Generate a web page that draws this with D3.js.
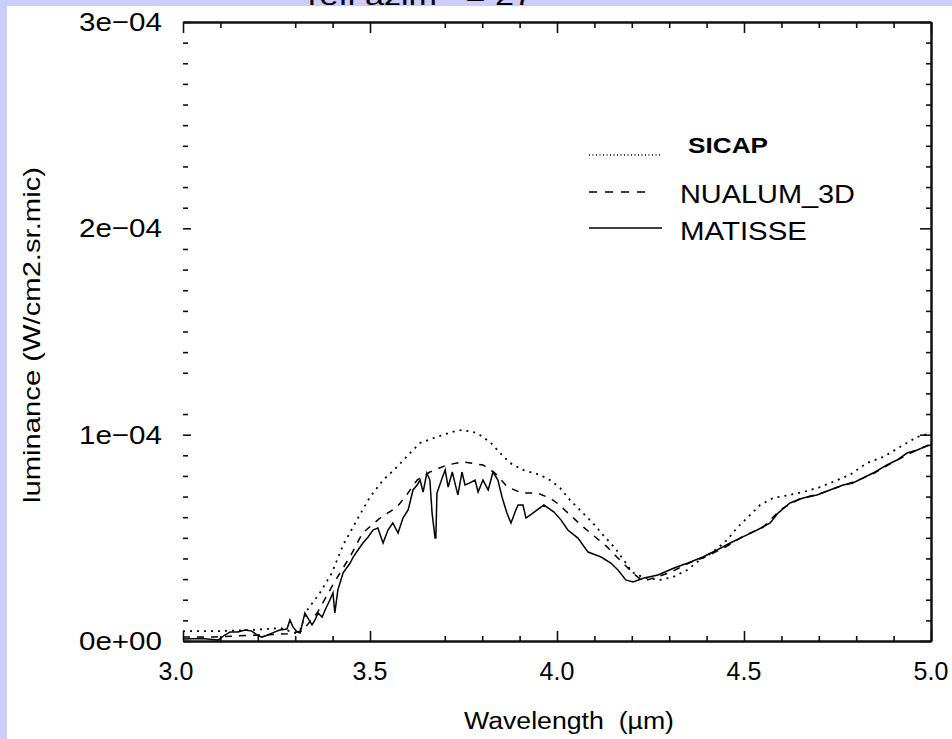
<!DOCTYPE html>
<html>
<head>
<meta charset="utf-8">
<script src="https://cdn.jsdelivr.net/npm/d3@7/dist/d3.min.js"></script>
<style>
  html, body { margin: 0; padding: 0; background: #ccccff; }
  svg { display: block; }
  text { font-family: "Liberation Sans", Arial, Helvetica, sans-serif; fill: #000; }
</style>
</head>
<body>
<svg id="chart" width="952" height="739"></svg>
<script>
// ---------- data (luminance in units of 1e-4 W/cm2.sr.mic) ----------
const sicapWl  = [3.00,3.094,3.18,3.26,3.30,3.313,3.332,3.366,3.398,3.428,3.468,3.50,3.535,3.572,3.607,3.634,3.679,3.719,3.746,3.786,3.821,3.848,3.874,3.909,3.955,3.981,4.008,4.035,4.061,4.096,4.123,4.155,4.182,4.201,4.214,4.241,4.275,4.310,4.348,4.382,4.417,4.455,4.481,4.511,4.543,4.578,4.623,4.658,4.703,4.738,4.783,4.829,4.872,4.917,4.963,5.00];
const sicapLum = [0.048,0.048,0.053,0.063,0.039,0.053,0.150,0.233,0.330,0.465,0.596,0.698,0.780,0.843,0.911,0.960,0.989,1.013,1.023,1.008,0.964,0.911,0.863,0.829,0.805,0.780,0.742,0.683,0.635,0.572,0.514,0.451,0.383,0.334,0.320,0.305,0.296,0.310,0.344,0.393,0.431,0.490,0.548,0.601,0.659,0.693,0.708,0.722,0.746,0.771,0.805,0.863,0.892,0.940,0.989,1.008];

const nualumWl  = [3.00,3.08,3.15,3.22,3.28,3.32,3.36,3.40,3.45,3.48,3.527,3.572,3.594,3.626,3.660,3.706,3.749,3.802,3.834,3.868,3.906,3.947,3.981,4.00,4.035,4.070,4.096,4.134,4.16,4.187,4.203,4.219,4.24,4.30,4.35,4.40,4.45,4.50,4.55,4.60,4.65,4.70,4.75,4.80,4.85,4.90,4.95,5.00];
const nualumLum = [0.019,0.019,0.025,0.030,0.035,0.050,0.140,0.270,0.420,0.523,0.596,0.649,0.698,0.780,0.819,0.853,0.868,0.853,0.814,0.746,0.717,0.717,0.693,0.669,0.611,0.553,0.514,0.456,0.407,0.359,0.330,0.305,0.295,0.330,0.375,0.410,0.455,0.510,0.550,0.640,0.690,0.712,0.745,0.775,0.815,0.868,0.915,0.955];

const matisseWl  = [3.00,3.05,3.094,3.112,3.126,3.147,3.166,3.184,3.198,3.211,3.227,3.246,3.259,3.278,3.286,3.294,3.305,3.313,3.326,3.334,3.345,3.353,3.361,3.372,3.380,3.393,3.401,3.406,3.414,3.428,3.447,3.455,3.468,3.481,3.495,3.508,3.521,3.535,3.548,3.561,3.575,3.588,3.602,3.615,3.626,3.634,3.642,3.652,3.660,3.666,3.674,3.676,3.679,3.693,3.701,3.709,3.720,3.727,3.735,3.746,3.754,3.767,3.781,3.789,3.802,3.816,3.829,3.842,3.853,3.866,3.877,3.890,3.896,3.909,3.917,3.939,3.965,3.992,4.011,4.029,4.056,4.083,4.118,4.144,4.163,4.184,4.203,4.233,4.270,4.313,4.350,4.390,4.428,4.463,4.508,4.535,4.570,4.591,4.623,4.658,4.695,4.730,4.765,4.791,4.818,4.845,4.882,4.909,4.936,4.963,4.989,5.00];
const matisseLum = [0.010,0.012,0.005,0.029,0.044,0.044,0.053,0.048,0.029,0.019,0.029,0.044,0.053,0.058,0.102,0.068,0.044,0.039,0.136,0.111,0.078,0.102,0.136,0.116,0.150,0.200,0.233,0.136,0.247,0.330,0.378,0.407,0.441,0.475,0.504,0.538,0.548,0.475,0.538,0.572,0.523,0.596,0.635,0.732,0.756,0.780,0.722,0.814,0.780,0.620,0.499,0.499,0.717,0.790,0.829,0.746,0.819,0.766,0.708,0.819,0.756,0.766,0.780,0.722,0.780,0.732,0.819,0.780,0.698,0.620,0.572,0.635,0.659,0.659,0.596,0.625,0.659,0.625,0.586,0.538,0.499,0.431,0.407,0.378,0.344,0.296,0.286,0.305,0.320,0.354,0.378,0.407,0.441,0.475,0.514,0.538,0.572,0.620,0.669,0.693,0.708,0.732,0.756,0.766,0.790,0.814,0.853,0.877,0.911,0.926,0.945,0.950];

const xMajorTicks   = [3.0, 3.5, 4.0, 4.5, 5.0];
const xTickLabels   = ["3.0", "3.5", "4.0", "4.5", "5.0"];
const xMinorBottom  = [3.1,3.2,3.3,3.4,3.7,3.8,3.9,4.1,4.2,4.3,4.4,4.6,4.7,4.8,4.9];
const xMinorTop     = [3.1,3.3,3.4,3.7,3.8,3.9,4.1,4.2,4.3,4.4,4.6,4.7,4.8,4.9];
const yMajorTicks   = [0, 1, 2, 3];
const yTickLabels   = ["0e+00", "1e\u221204", "2e\u221204", "3e\u221204"];
const yMinorLeft    = [0.1,0.2,0.3,0.4,0.5,0.6,0.7,0.8,0.9,1.1,1.3,1.4,1.5,1.6,1.7,1.8,1.9,2.1,2.2,2.3,2.4,2.5,2.6,2.7,2.8,2.9];
const yMinorRight   = [0.1,0.2,0.3,0.4,0.5,0.6,0.7,0.8,0.9,1.1,1.2,1.3,1.4,1.5,1.6,1.7,1.8,1.9,2.1,2.2,2.3,2.4,2.5,2.6,2.7,2.8,2.9];

const seriesNames = ["SICAP", "NUALUM_3D", "MATISSE"];

// ---------- layout ----------
const svg = d3.select("#chart");
const L = 183, R = 931, T = 22, B = 641;
const x = d3.scaleLinear().domain([3, 5]).range([L, R]);
const y = d3.scaleLinear().domain([0, 3]).range([B, T]);

// lavender frame + white panel
svg.append("rect").attr("x", 0).attr("y", 0).attr("width", 952).attr("height", 739).attr("fill", "#ccccff");
svg.append("rect").attr("x", 7).attr("y", 6).attr("width", 945).attr("height", 733).attr("fill", "#ffffff");

// cut-off title in the lavender strip
svg.append("text").attr("x", 308).attr("y", 5)
  .attr("font-size", 26).attr("textLength", 225).attr("lengthAdjust", "spacingAndGlyphs")
  .style("white-space", "pre")
  .text("refl azim   = 27");

const axisColor = "#111";
function styleAxis(g, width) {
  g.select(".domain").attr("stroke", axisColor).attr("stroke-width", width);
  g.selectAll(".tick line").attr("stroke", axisColor).attr("stroke-width", 1.6);
  g.selectAll(".tick text").remove();
}

// bottom axis
styleAxis(svg.append("g").attr("transform", `translate(0,${B})`)
  .call(d3.axisBottom(x).tickValues(xMinorBottom).tickSize(-5).tickSizeOuter(0)), 2);
styleAxis(svg.append("g").attr("transform", `translate(0,${B})`)
  .call(d3.axisBottom(x).tickValues(xMajorTicks).tickSize(-10).tickSizeOuter(0)), 2);
// top axis
styleAxis(svg.append("g").attr("transform", `translate(0,${T})`)
  .call(d3.axisTop(x).tickValues(xMinorTop).tickSize(-6).tickSizeOuter(0)), 2);
styleAxis(svg.append("g").attr("transform", `translate(0,${T})`)
  .call(d3.axisTop(x).tickValues(xMajorTicks).tickSize(-11).tickSizeOuter(0)), 2);
// right axis
styleAxis(svg.append("g").attr("transform", `translate(${R},0)`)
  .call(d3.axisRight(y).tickValues(yMinorRight).tickSize(-5).tickSizeOuter(0)), 2);
styleAxis(svg.append("g").attr("transform", `translate(${R},0)`)
  .call(d3.axisRight(y).tickValues(yMajorTicks).tickSize(-11).tickSizeOuter(0)), 2);
// left axis: ticks only, no line
const gl1 = svg.append("g").attr("transform", `translate(${L},0)`)
  .call(d3.axisLeft(y).tickValues(yMinorLeft).tickSize(-5).tickSizeOuter(0));
styleAxis(gl1, 2); gl1.select(".domain").remove();
const gl2 = svg.append("g").attr("transform", `translate(${L},0)`)
  .call(d3.axisLeft(y).tickValues(yMajorTicks).tickSize(-8).tickSizeOuter(0));
styleAxis(gl2, 2); gl2.select(".domain").remove();

// tick labels
svg.append("g").selectAll("text").data(xMajorTicks).join("text")
  .attr("x", (d, i) => x(d) + (i === 0 ? -7 : 0))
  .attr("y", 680)
  .attr("text-anchor", "middle")
  .attr("font-size", 25)
  .text((d, i) => xTickLabels[i]);

svg.append("g").selectAll("text").data(yMajorTicks).join("text")
  .attr("x", 162)
  .attr("y", d => y(d) + 9)
  .attr("text-anchor", "end")
  .attr("font-size", 26)
  .attr("textLength", 83).attr("lengthAdjust", "spacingAndGlyphs")
  .text((d, i) => yTickLabels[i]);

// axis titles
svg.append("text")
  .attr("x", 569).attr("y", 729)
  .attr("text-anchor", "middle")
  .attr("font-size", 23)
  .attr("textLength", 210).attr("lengthAdjust", "spacingAndGlyphs")
  .style("white-space", "pre")
  .text("Wavelength  (\u00b5m)");

svg.append("text")
  .attr("transform", "translate(40,335) rotate(-90)")
  .attr("text-anchor", "middle")
  .attr("font-size", 24)
  .attr("textLength", 336).attr("lengthAdjust", "spacingAndGlyphs")
  .text("luminance (W/cm2.sr.mic)");

// series
const series = [
  { wl: sicapWl,   lum: sicapLum,   dash: "2,5", width: 1.8 },
  { wl: nualumWl,  lum: nualumLum,  dash: "7,7", width: 1.5 },
  { wl: matisseWl, lum: matisseLum, dash: null,  width: 1.5 }
];
const line = d3.line().x(d => x(d[0])).y(d => y(d[1]));
const plot = svg.append("g");
series.forEach(s => {
  plot.append("path")
    .datum(s.wl.map((w, i) => [w, s.lum[i]]))
    .attr("fill", "none")
    .attr("stroke", "#000")
    .attr("stroke-width", s.width)
    .attr("stroke-dasharray", s.dash)
    .attr("d", line);
});

// legend
const legend = [
  { name: seriesNames[0], ly: 155, x1: 589, x2: 662, tx: 688, ty: 153, fs: 22, bold: true,  tl: 80,  dash: "1,2.5", w: 1.4 },
  { name: seriesNames[1], ly: 192, x1: 589, x2: 652, tx: 680, ty: 203, fs: 26, bold: false, tl: 175, dash: "8,8",  w: 1.3 },
  { name: seriesNames[2], ly: 228, x1: 589, x2: 662, tx: 680, ty: 240, fs: 26, bold: false, tl: 127, dash: null,   w: 1.3 }
];
const lg = svg.append("g");
legend.forEach(e => {
  lg.append("line").attr("x1", e.x1).attr("x2", e.x2).attr("y1", e.ly).attr("y2", e.ly)
    .attr("stroke", "#000").attr("stroke-width", e.w).attr("stroke-dasharray", e.dash);
  lg.append("text").attr("x", e.tx).attr("y", e.ty)
    .attr("font-size", e.fs).attr("font-weight", e.bold ? "bold" : "normal")
    .attr("textLength", e.tl).attr("lengthAdjust", "spacingAndGlyphs")
    .text(e.name);
});
</script>
</body>
</html>
